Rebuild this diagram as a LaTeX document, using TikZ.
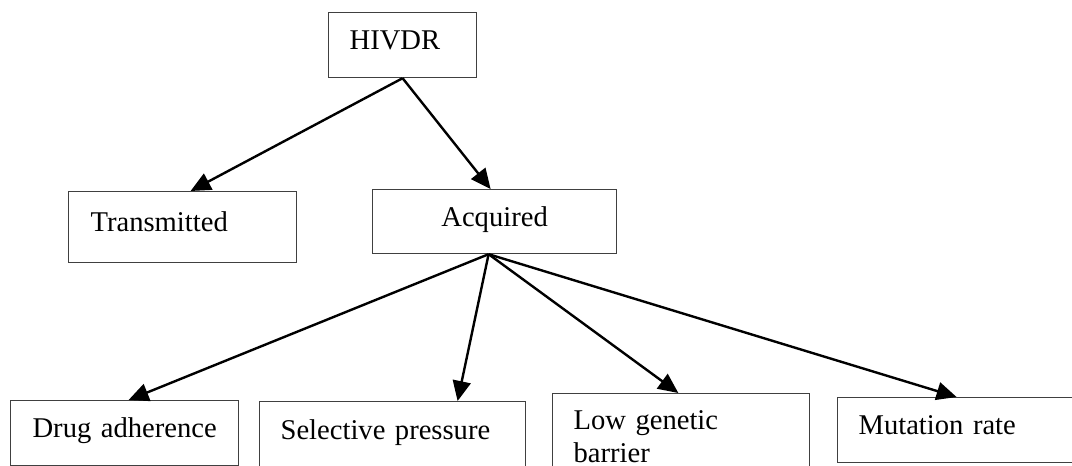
\documentclass[tikz,border=0pt]{standalone}
\usepackage{fontspec}
\setmainfont{Liberation Serif}
\usepackage{tikz}
\usetikzlibrary{arrows.meta}

\tikzset{
  box/.style={draw=black!75, line width=0.6pt, rectangle, anchor=north west,
    align=left, inner xsep=10.5pt, inner ysep=0pt,
    text height=0.7em, text depth=0.25em,
    font=\fontsize{14.3}{16.5}\selectfont,
    execute at begin node={\hyphenpenalty=10000}},
  link/.style={line width=1.2pt, -{Triangle[length=10pt,width=9pt]}}
}

\begin{document}
\begin{tikzpicture}[x=0.5pt, y=-0.5pt]

\useasboundingbox (0,0) rectangle (1072,466);
\clip (0,0) rectangle (1072,466);

% top level
\node[box, text width=53pt, minimum height=32.5pt] (hiv) at (328,12) {HIVDR};

% second level
\node[box, text width=92pt, inner xsep=11pt, minimum height=35.5pt] (trans) at (68,191) {Transmitted};
\node[box, text width=101pt, minimum height=32pt, align=center] (acq) at (372,189) {Acquired};

% causes of acquired resistance
\node[box, text width=92pt, inner xsep=11pt, minimum height=32.25pt] (drug) at (10,400) {Drug~adherence};
\node[box, text width=112pt, minimum height=33.25pt] (sel) at (259,401) {Selective pressure};
\node[box, text width=107.35pt, minimum height=43.5pt,
      text height={}, text depth={}] (low) at (552,393) {Low genetic\\barrier};
\node[box, text width=98pt, minimum height=32.5pt] (mut) at (837,397) {Mutation rate};

\draw[link] (hiv.south) -- ([xshift=4pt]trans.north);
\draw[link] (hiv.south) -- ([xshift=-2pt]acq.north);

\draw[link] ([xshift=-3pt]acq.south) -- ([xshift=2pt]drug.north);
\draw[link] ([xshift=-3pt]acq.south) -- ([xshift=32.5pt]sel.north);
\draw[link] ([xshift=-3pt]acq.south) -- ([xshift=-1.3pt]low.north);
\draw[link] ([xshift=-3pt]acq.south) -- (mut.north);

\end{tikzpicture}
\end{document}
